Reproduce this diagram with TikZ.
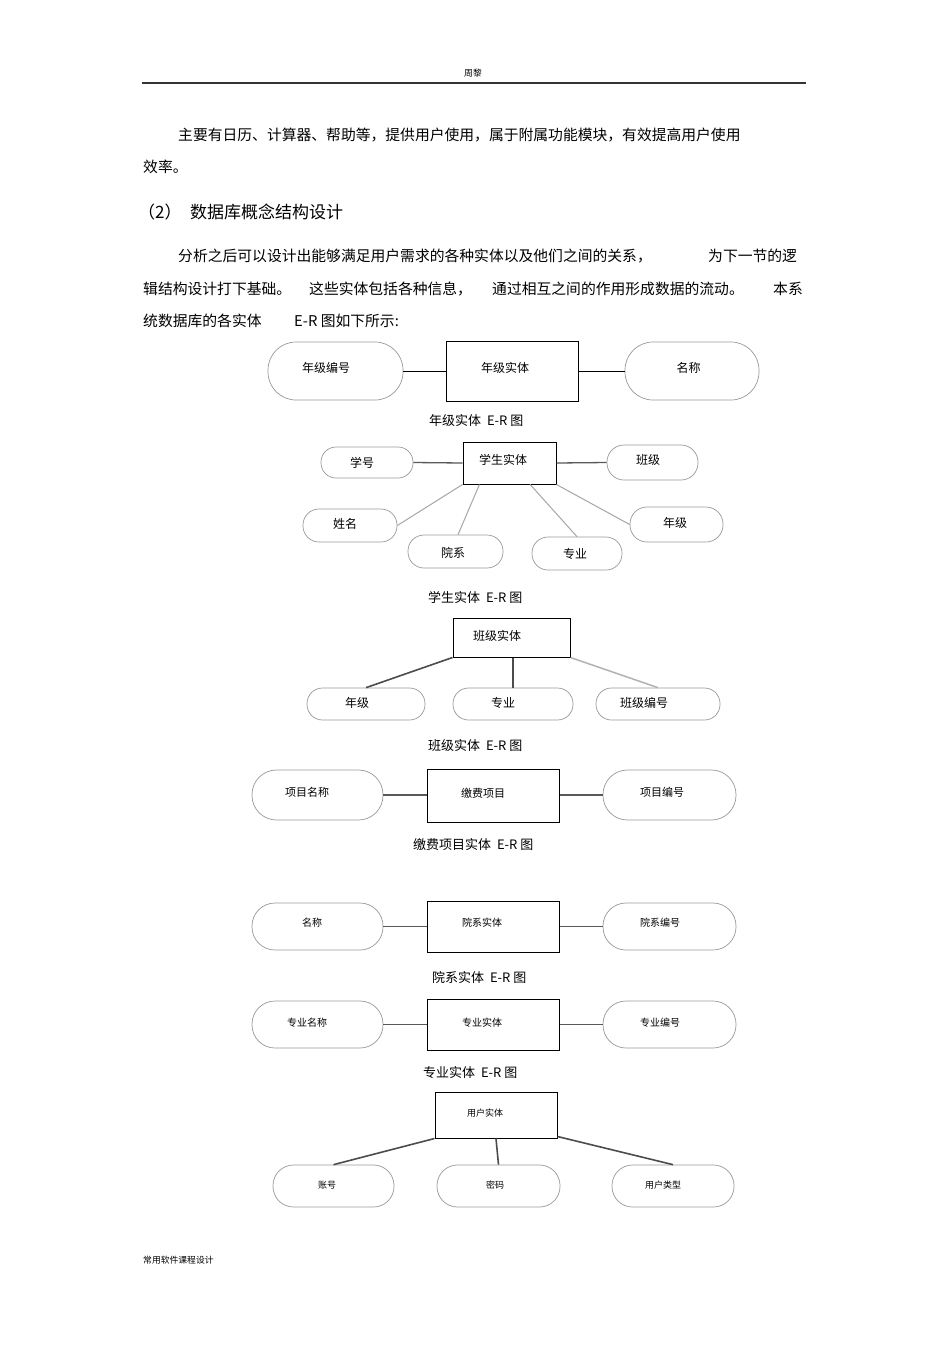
\documentclass[tikz,border=0pt]{standalone}
\usepackage{fontspec}
\setmainfont{Noto Sans CJK SC}
\usetikzlibrary{calc}
\newcommand\fsbody{\fontsize{14.8pt}{17pt}\selectfont}
\newcommand\fshead{\fontsize{17pt}{19pt}\selectfont}
\newcommand\fscap{\fontsize{13pt}{15pt}\selectfont}
\newcommand\fstiny{\fontsize{8.8pt}{10pt}\selectfont}
\tikzset{
  txt/.style={inner sep=0pt, anchor=west, font=\fsbody},
  ent/.style={draw=black, line width=1pt, inner sep=0pt},
  att/.style={draw=black!40, line width=0.7pt, inner sep=0pt},
  labA/.style={inner sep=0pt, font=\fontsize{12pt}{14pt}\selectfont},
  labB/.style={inner sep=0pt, font=\fontsize{11pt}{13pt}\selectfont},
  labC/.style={inner sep=0pt, font=\fontsize{10pt}{12pt}\selectfont},
  labD/.style={inner sep=0pt, font=\fontsize{9pt}{11pt}\selectfont},
  capt/.style={inner sep=0pt, anchor=west, font=\fscap},
  lkblack/.style={draw=black, line width=1pt},
  lkdark/.style={draw=black!65, line width=1.3pt},
  lklight/.style={draw=black!35, line width=1pt},
}
\begin{document}
\begin{tikzpicture}[x=1pt,y=-1pt]
\fill[white] (0,0) rectangle (950,1345);
\useasboundingbox (0,0) rectangle (950,1345);

% header and footer
\node[inner sep=0pt, font=\fstiny] (hd) at (473,73) {周黎};
\coordinate (rl) at (142,83);
\coordinate (rr) at (806,83);
\draw[black!80, line width=1.1pt] (rl) -- (rr);
\node[txt, font=\fstiny] (ft) at (143,1260) {常用软件课程设计};

% body text
\node[txt] (t1) at (178,135) {主要有日历、计算器、帮助等，提供用户使用，属于附属功能模块，有效提高用户使用};
\node[txt] (t2) at (143,167) {效率。};
\node[txt, font=\fshead] (h1) at (138,212) {（2）};
\node[txt, font=\fshead] (h2) at (190,212) {数据库概念结构设计};
\node[txt] (p1a) at (178,256) {分析之后可以设计出能够满足用户需求的各种实体以及他们之间的关系，};
\node[txt] (p1b) at (708,256) {为下一节的逻};
\node[txt] (p2a) at (143,289) {辑结构设计打下基础。};
\node[txt] (p2b) at (309,289) {这些实体包括各种信息，};
\node[txt] (p2c) at (492,289) {通过相互之间的作用形成数据的流动。};
\node[txt] (p2d) at (773,289) {本系};
\node[txt] (p3a) at (143,321) {统数据库的各实体};
\node[txt] (p3b) at (294,321) {E-R 图如下所示:};

% ---------- 年级实体
\node[ent, minimum width=132pt, minimum height=60pt,
  label={[labA, xshift=-7pt, yshift=3pt]center:年级实体}] (e1) at (512,371) {};
\node[att, minimum width=135pt, minimum height=58pt, rounded corners=28pt,
  label={[labA, xshift=-9.5pt, yshift=3pt]center:年级编号}] (a11) at (335.5,371) {};
\node[att, minimum width=134pt, minimum height=58pt, rounded corners=28pt,
  label={[labA, xshift=-3.5pt, yshift=3pt]center:名称}] (a12) at (692,371) {};
\draw[lkblack] (a11.east) -- (e1.west);
\draw[lkblack] (e1.east) -- (a12.west);
\node[capt] (c1) at (429,421) {年级实体~~E-R 图};

% ---------- 学生实体
\node[ent, minimum width=93pt, minimum height=42pt,
  label={[labA, xshift=-6.5pt, yshift=3pt]center:学生实体}] (e2) at (509.5,463) {};
\node[att, minimum width=92pt, minimum height=31pt, rounded corners=15pt,
  label={[labA, xshift=-5pt]center:学号}] (a21) at (367,462.5) {};
\node[att, minimum width=91pt, minimum height=35pt, rounded corners=17pt,
  label={[labA, xshift=-4.5pt, yshift=2.5pt]center:班级}] (a22) at (652.5,462.5) {};
\node[att, minimum width=94pt, minimum height=33pt, rounded corners=16pt,
  label={[labA, xshift=-5pt, yshift=1.5pt]center:姓名}] (a23) at (350,525.5) {};
\node[att, minimum width=95pt, minimum height=33pt, rounded corners=16pt,
  label={[labA, xshift=-2.5pt, yshift=-1.5pt]center:院系}] (a24) at (455.5,551.5) {};
\node[att, minimum width=90pt, minimum height=33pt, rounded corners=16pt,
  label={[labA, xshift=-2pt]center:专业}] (a25) at (577,553.5) {};
\node[att, minimum width=93pt, minimum height=35pt, rounded corners=17pt,
  label={[labA, xshift=-1.5pt, yshift=1.5pt]center:年级}] (a26) at (676.5,524.5) {};
\draw[lkdark] (a21.east) -- (e2.west);
\draw[lkdark] (e2.east) -- (a22.west);
\draw[lklight] (a23.east) -- (e2.south west);
\draw[lklight] ($(e2.south west)!0.18!(e2.south east)$) -- ([xshift=2.5pt]a24.north);
\draw[lklight] ($(e2.south west)!0.72!(e2.south east)$) -- (a25.north);
\draw[lklight] (e2.south east) -- (a26.west);
\node[capt] (c2) at (428,597) {学生实体~~E-R 图};

% ---------- 班级实体
\node[ent, minimum width=117pt, minimum height=39pt,
  label={[labA, xshift=-14.5pt, yshift=1.5pt]center:班级实体}] (e3) at (511.5,637.5) {};
\node[att, minimum width=118pt, minimum height=32pt, rounded corners=15.5pt,
  label={[labA, xshift=-9pt, yshift=1pt]center:年级}] (a31) at (366,704) {};
\node[att, minimum width=120pt, minimum height=32pt, rounded corners=15.5pt,
  label={[labA, xshift=-10pt, yshift=1pt]center:专业}] (a32) at (513,704) {};
\node[att, minimum width=124pt, minimum height=32pt, rounded corners=15.5pt,
  label={[labA, xshift=-14pt, yshift=1pt]center:班级编号}] (a33) at (658,704) {};
\draw[draw=black!70, line width=1.6pt] (e3.south west) -- (a31.north);
\draw[draw=black!70, line width=1.2pt] (a32.north |- e3.south) -- (a32.north);
\draw[draw=black!30, line width=1.5pt] (e3.south east) -- (a33.north);
\node[capt] (c3) at (428,746) {班级实体~~E-R 图};

% ---------- 缴费项目
\node[ent, minimum width=132pt, minimum height=53pt,
  label={[labB, xshift=-10pt, yshift=2.5pt]center:缴费项目}] (e4) at (493,795.5) {};
\node[att, minimum width=131pt, minimum height=50pt, rounded corners=24.5pt,
  label={[labB, xshift=-10.5pt, yshift=3pt]center:项目名称}] (a41) at (317.5,795) {};
\node[att, minimum width=133pt, minimum height=50pt, rounded corners=24.5pt,
  label={[labB, xshift=-7.5pt, yshift=3pt]center:项目编号}] (a42) at (669.5,795) {};
\draw[lkdark] (a41.east) -- (a41.east -| e4.west);
\draw[lkdark] (a42.west -| e4.east) -- (a42.west);
\node[capt] (c4) at (413,845) {缴费项目实体~~E-R 图};

% ---------- 院系实体
\node[ent, minimum width=132pt, minimum height=51pt,
  label={[labC, xshift=-11pt, yshift=3.5pt]center:院系实体}] (e5) at (493,926.5) {};
\node[att, minimum width=131pt, minimum height=47pt, rounded corners=23pt,
  label={[labC, xshift=-5.5pt, yshift=3.5pt]center:名称}] (a51) at (317.5,926.5) {};
\node[att, minimum width=133pt, minimum height=47pt, rounded corners=23pt,
  label={[labC, xshift=-9.5pt, yshift=3.5pt]center:院系编号}] (a52) at (669.5,926.5) {};
\draw[lkdark] (a51.east) -- (e5.west);
\draw[lkdark] (e5.east) -- (a52.west);
\node[capt] (c5) at (432,977) {院系实体~~E-R 图};

% ---------- 专业实体
\node[ent, minimum width=132pt, minimum height=51pt,
  label={[labC, xshift=-11pt, yshift=1.5pt]center:专业实体}] (e6) at (493,1024.5) {};
\node[att, minimum width=131pt, minimum height=47pt, rounded corners=23pt,
  label={[labC, xshift=-10.5pt, yshift=1.5pt]center:专业名称}] (a61) at (317.5,1024.5) {};
\node[att, minimum width=133pt, minimum height=47pt, rounded corners=23pt,
  label={[labC, xshift=-9.5pt, yshift=1.5pt]center:专业编号}] (a62) at (669.5,1024.5) {};
\draw[lkdark] (a61.east) -- (e6.west);
\draw[lkdark] (e6.east) -- (a62.west);
\node[capt] (c6) at (423,1073) {专业实体~~E-R 图};

% ---------- 用户实体
\node[ent, minimum width=122pt, minimum height=46pt,
  label={[labD, xshift=-11pt, yshift=2pt]center:用户实体}] (e7) at (496,1115) {};
\node[att, minimum width=121pt, minimum height=42pt, rounded corners=20.5pt,
  label={[labD, xshift=-6.5pt, yshift=1pt]center:账号}] (a71) at (333.5,1186) {};
\node[att, minimum width=123pt, minimum height=42pt, rounded corners=20.5pt,
  label={[labD, xshift=-3.5pt, yshift=1pt]center:密码}] (a72) at (498.5,1186) {};
\node[att, minimum width=122pt, minimum height=42pt, rounded corners=20.5pt,
  label={[labD, xshift=-10pt, yshift=1pt]center:用户类型}] (a73) at (673,1186) {};
\draw[draw=black!70, line width=1.6pt] (e7.south west) -- (a71.north);
\draw[draw=black!70, line width=1.6pt] (e7.south) -- (a72.north);
\draw[draw=black!70, line width=1.6pt] ([yshift=2pt]e7.south east) -- (a73.north);
\end{tikzpicture}
\end{document}
